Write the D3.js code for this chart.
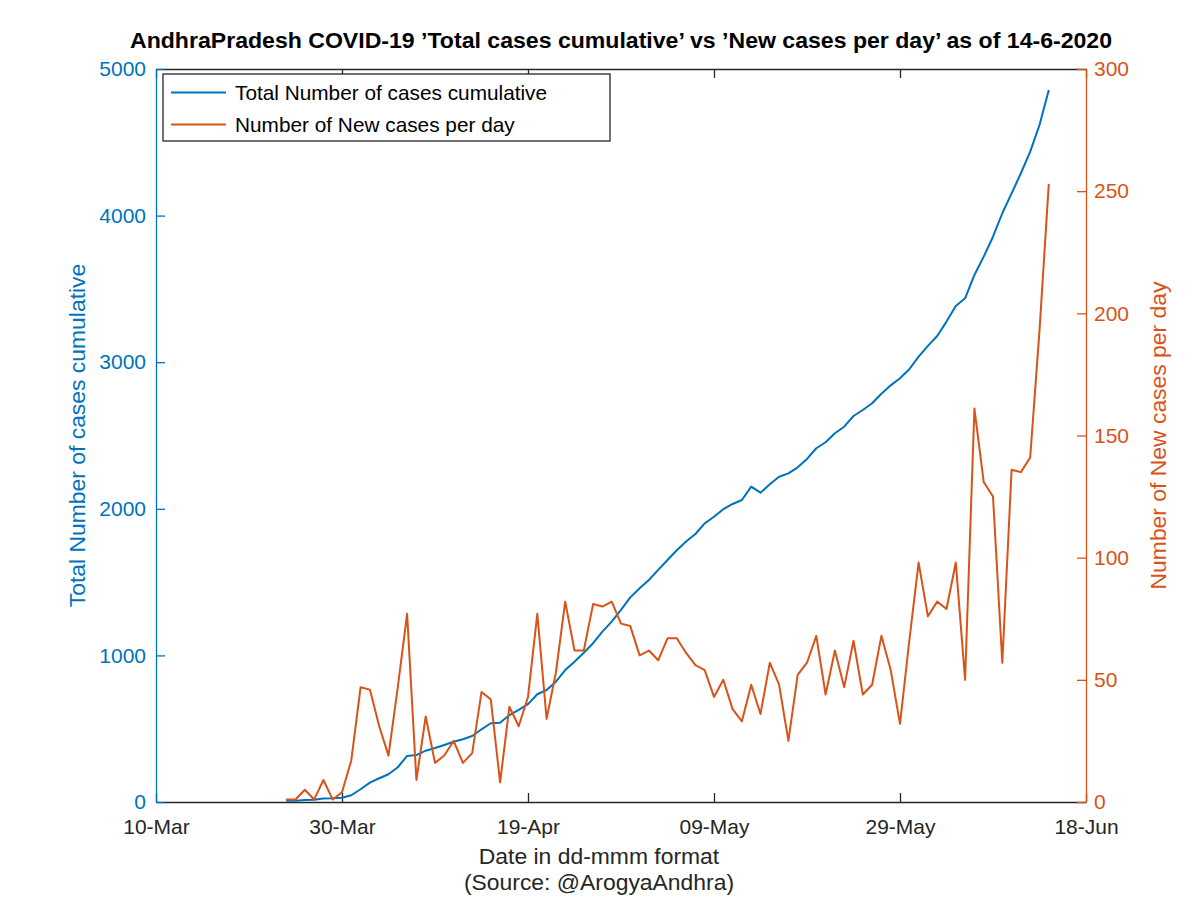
<!DOCTYPE html>
<html>
<head>
<meta charset="utf-8">
<script src="https://cdn.jsdelivr.net/npm/d3@7"></script>
<style>
  html, body { margin: 0; padding: 0; background: #fff; }
  svg { display: block; font-family: "Liberation Sans", Arial, sans-serif; }
</style>
</head>
<body>
<svg id="chart" width="1200" height="898"></svg>
<script>
// ---- Data ----
const startDate = "2020-03-24";
const totalCases = [
  8, 9, 14, 15, 24, 25, 29, 46,
  87, 132, 162, 189, 237, 314, 320, 350, 368, 389, 411, 428, 450, 496, 537, 541, 593, 628, 668, 735, 764, 821, 900, 957, 1018, 1083, 1162, 1230, 1310, 1396,
  1458, 1514, 1583, 1651, 1717, 1777, 1828, 1901, 1946, 1997, 2033, 2060, 2151, 2110, 2167, 2219, 2242, 2283, 2340, 2413, 2454, 2515, 2560, 2633, 2674, 2720, 2785, 2842, 2890, 2952, 3038,
  3111, 3179, 3277, 3383, 3436, 3595, 3720, 3856, 4016, 4152, 4289, 4436, 4618, 4857
];
const newCases = [
  1, 1, 5, 1, 9, 1, 4, 17,
  47, 46, 31, 19, 47, 77, 9, 35, 16, 19, 25, 16, 20, 45, 42, 8, 39, 31, 43, 77, 34, 53, 82, 62, 62, 81, 80, 82, 73, 72,
  60, 62, 58, 67, 67, 61, 56, 54, 43, 50, 38, 33, 48, 36, 57, 48, 25, 52, 57, 68, 44, 62, 47, 66, 44, 48, 68, 54, 32, 66, 98,
  76, 82, 79, 98, 50, 161, 131, 125, 57, 136, 135, 141, 193, 253
];
const xTickLabels = ["2020-03-10", "2020-03-30", "2020-04-19", "2020-05-09", "2020-05-29", "2020-06-18"];
const leftTicks = [0, 1000, 2000, 3000, 4000, 5000];
const rightTicks = [0, 50, 100, 150, 200, 250, 300];
const seriesNames = ["Total Number of cases cumulative", "Number of New cases per day"];

// ---- Layout ----
const L = 156, R = 1086, T = 69, B = 802;
const blue = "#0072BD", orange = "#D95319", axisCol = "#262626";
const tickLen = 9;

const parse = d3.timeParse("%Y-%m-%d");
const start = parse(startDate);
const dates = totalCases.map((_, i) => d3.timeDay.offset(start, i));

const svg = d3.select("#chart");

const x = d3.scaleTime().domain([parse(xTickLabels[0]), parse(xTickLabels[xTickLabels.length - 1])]).range([L, R]);
const yL = d3.scaleLinear().domain([0, 5000]).range([B, T]);
const yR = d3.scaleLinear().domain([0, 300]).range([B, T]);

const fmt = d3.timeFormat("%d-%b");
const xTicks = xTickLabels.map(parse);

function styleAxis(g, color, fontSize) {
  g.select(".domain").attr("stroke", color).attr("stroke-width", 1.3);
  g.selectAll(".tick line").attr("stroke", color).attr("stroke-width", 1.3);
  g.selectAll(".tick text").attr("fill", color).style("font-size", fontSize + "px")
    .style("font-family", "'Liberation Sans', Arial, sans-serif");
}

// Top axis (no labels)
svg.append("g").attr("transform", `translate(0,${T})`)
  .call(d3.axisTop(x).tickValues(xTicks).tickSizeInner(-tickLen).tickSizeOuter(0).tickFormat(""))
  .call(g => styleAxis(g, axisCol, 21));

// Bottom axis
svg.append("g").attr("transform", `translate(0,${B})`)
  .call(d3.axisBottom(x).tickValues(xTicks).tickSizeInner(-tickLen).tickSizeOuter(0).tickFormat(fmt).tickPadding(17))
  .call(g => styleAxis(g, axisCol, 21));

// Right axis
svg.append("g").attr("transform", `translate(${R},0)`)
  .call(d3.axisRight(yR).tickValues(rightTicks).tickSizeInner(-tickLen).tickSizeOuter(0).tickPadding(8).tickFormat(d3.format("d")))
  .call(g => styleAxis(g, orange, 21));

// Left axis
svg.append("g").attr("transform", `translate(${L},0)`)
  .call(d3.axisLeft(yL).tickValues(leftTicks).tickSizeInner(-tickLen).tickSizeOuter(0).tickPadding(10).tickFormat(d3.format("d")))
  .call(g => styleAxis(g, blue, 21));

// Lines
const lineTotal = d3.line().x((d, i) => x(dates[i])).y(d => yL(d));
const lineNew = d3.line().x((d, i) => x(dates[i])).y(d => yR(d));

svg.append("path").datum(totalCases).attr("d", lineTotal)
  .attr("fill", "none").attr("stroke", blue).attr("stroke-width", 2).attr("stroke-linejoin", "round");
svg.append("path").datum(newCases).attr("d", lineNew)
  .attr("fill", "none").attr("stroke", orange).attr("stroke-width", 2).attr("stroke-linejoin", "round");

// Legend
const lg = svg.append("g");
lg.append("rect").attr("x", 163).attr("y", 74).attr("width", 447).attr("height", 67)
  .attr("fill", "#fff").attr("stroke", axisCol).attr("stroke-width", 1.3);
[blue, orange].forEach((c, i) => {
  const cy = 92.5 + i * 32;
  lg.append("line").attr("x1", 171).attr("x2", 226).attr("y1", cy).attr("y2", cy)
    .attr("stroke", c).attr("stroke-width", 2);
  lg.append("text").attr("x", 235).attr("y", cy + 7).attr("fill", "#000")
    .style("font-size", "20.8px").text(seriesNames[i]);
});

// Title
svg.append("text").attr("x", 621).attr("y", 48).attr("text-anchor", "middle")
  .attr("fill", "#000").style("font-size", "22px").style("font-weight", "bold")
  .attr("textLength", 982).attr("lengthAdjust", "spacingAndGlyphs")
  .text("AndhraPradesh COVID-19 \u2019Total cases cumulative\u2019 vs \u2019New cases per day\u2019 as of 14-6-2020");

// Axis labels
svg.append("text").attr("x", 599).attr("y", 864).attr("text-anchor", "middle")
  .attr("fill", axisCol).style("font-size", "22.9px").text("Date in dd-mmm format");
svg.append("text").attr("x", 599).attr("y", 890).attr("text-anchor", "middle")
  .attr("fill", axisCol).style("font-size", "22.9px").text("(Source: @ArogyaAndhra)");

svg.append("text").attr("transform", `translate(85,${(T + B) / 2}) rotate(-90)`)
  .attr("text-anchor", "middle").attr("fill", blue).style("font-size", "22.9px")
  .text("Total Number of cases cumulative");
svg.append("text").attr("transform", `translate(1166,${(T + B) / 2}) rotate(-90)`)
  .attr("text-anchor", "middle").attr("fill", orange).style("font-size", "22.9px")
  .text("Number of New cases per day");
</script>
</body>
</html>
